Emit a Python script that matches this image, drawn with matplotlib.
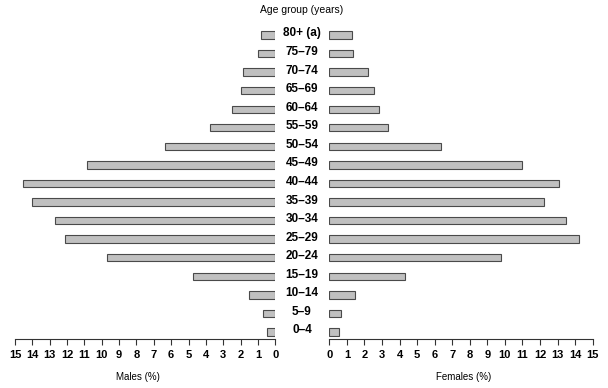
import matplotlib
matplotlib.use("Agg")
import matplotlib.pyplot as plt
from matplotlib import font_manager

ages = ["0–4", "5–9", "10–14", "15–19", "20–24", "25–29", "30–34", "35–39",
        "40–44", "45–49", "50–54", "55–59", "60–64", "65–69", "70–74", "75–79", "80+ (a)"]
males = [0.50, 0.70, 1.53, 4.74, 9.71, 12.13, 12.69, 14.04,
         14.53, 10.87, 6.36, 3.76, 2.50, 1.98, 1.89, 0.99, 0.84]
females = [0.55, 0.66, 1.49, 4.29, 9.80, 14.20, 13.50, 12.20,
           13.06, 11.00, 6.34, 3.37, 2.82, 2.55, 2.20, 1.34, 1.30]
ticks = list(range(0, 16))

avail = {f.name for f in font_manager.fontManager.ttflist}
fam = ["Liberation Sans Narrow", "DejaVu Sans"] if "Liberation Sans Narrow" in avail else ["Liberation Sans", "DejaVu Sans"]
plt.rcParams["font.family"] = fam

W, H = 608, 388
fig = plt.figure(figsize=(W / 100, H / 100), dpi=100)
bottom = 1 - 339 / H
height = (339 - 25.7) / H
axL = fig.add_axes([15 / W, bottom, (275.3 - 15) / W, height])
axR = fig.add_axes([329.3 / W, bottom, (592.7 - 329.3) / W, height])

y = list(range(len(ages)))
fill = "#c0c0c0"
edge = "#4a4a4a"
axL.barh(y, males, height=0.4, color=fill, edgecolor=edge, linewidth=0.8)
axR.barh(y, females, height=0.4, color=fill, edgecolor=edge, linewidth=0.8)

for ax in (axL, axR):
    ax.set_ylim(-0.38, 16.5)
    ax.set_xlim(0, 15)
    ax.set_xticks(ticks)
    ax.set_xticklabels([str(t) for t in ticks], fontsize=8, fontweight="bold")
    ax.set_yticks([])
    for s in ("top", "left", "right"):
        ax.spines[s].set_visible(False)
    ax.spines["bottom"].set_color("#333333")
    ax.spines["bottom"].set_linewidth(0.8)
    ax.tick_params(axis="x", direction="out", length=4, width=0.8, color="#333333", pad=4)
axL.invert_xaxis()

cx = 302 / W
for i, lab in enumerate(ages):
    yy = axL.transData.transform((0, i))[1]
    fig.text(cx, yy / fig.dpi / (H / 100) + 1.5 / H, lab, ha="center", va="center",
             fontsize=8.5, fontweight="bold")

fig.text(cx, 1 - 10 / H, "Age group (years)", ha="center", va="center", fontsize=7.5)
fig.text(138 / W, 1 - 377 / H, "Males (%)", ha="center", va="center", fontsize=7)
fig.text(464 / W, 1 - 377 / H, "Females (%)", ha="center", va="center", fontsize=7)

fig.savefig("out.png", dpi=100)
